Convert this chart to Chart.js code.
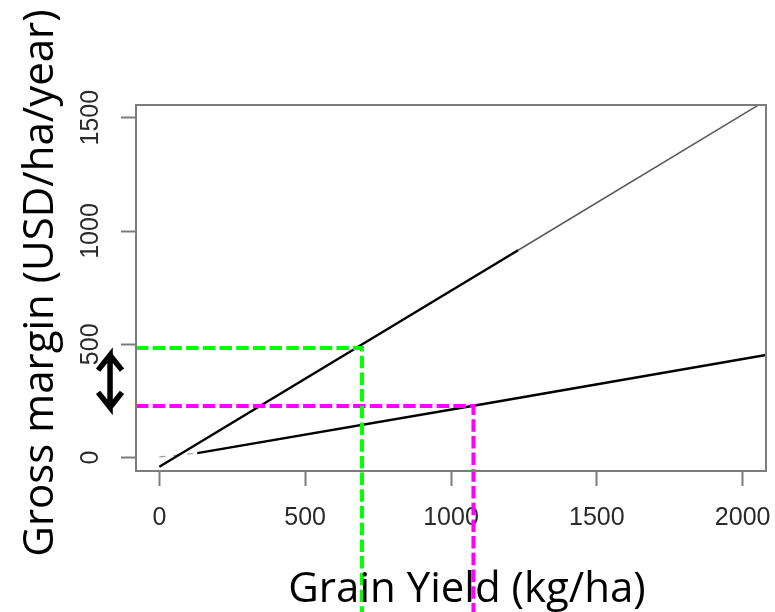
<!DOCTYPE html>
<html>
<head>
<meta charset="utf-8">
<script src="https://cdn.jsdelivr.net/npm/chart.js@4.4.1/dist/chart.umd.min.js"></script>
<style>
  html, body { margin: 0; padding: 0; background: #ffffff; }
  #wrap { width: 775px; height: 612px; }
</style>
</head>
<body>
<div id="wrap"><canvas id="c" width="775" height="612"></canvas></div>
<script>
// ---- axis ranges and ticks ----
const xMin = -80, xMax = 2080;
const yMin = -59, yMax = 1556;
const xTickValues = [0, 500, 1000, 1500, 2000];
const yTickValues = [0, 500, 1000, 1500];

// ---- steep gross-margin line (high price) ----
const highX = [0, 1230];
const highY = [-40, 915];
const highExtX = [1230, 2080];
const highExtY = [915, 1576];

// ---- shallow gross-margin line (low price) ----
const lowStartX = [0, 130];
const lowStartY = [3, 20];
const lowX = [130, 1077, 2080];
const lowY = [20, 229, 453];

// ---- guide lines (green / magenta) ----
const greenX = [-80, 695, 695];
const greenY = [484, 484, -700];
const magentaX = [-80, 1077, 1077];
const magentaY = [228, 228, -700];

// ---- double arrow annotation (data units), drawn as one path ----
const arrowX = [-128, -169, -210, -169, -169, -210, -169, -128];
const arrowY = [386, 452, 386, 452, 222, 288, 222, 288];

const xTitle = 'Grain Yield (kg/ha)';
const yTitle = 'Gross margin (USD/ha/year)';

function pts(xs, ys) { return xs.map((x, i) => ({ x: x, y: ys[i] })); }

const axisGrey = '#7c7c7c';
const tickFont = { family: 'Liberation Sans', size: 25 };

const framePlugin = {
  id: 'frame',
  afterDatasetsDraw(chart) {
    const { ctx, chartArea: a } = chart;
    ctx.save();
    ctx.strokeStyle = axisGrey;
    ctx.lineWidth = 2;
    ctx.strokeRect(a.left, a.top, a.right - a.left, a.bottom - a.top);
    ctx.restore();
  },
  afterDraw(chart) {
    const { ctx } = chart;
    ctx.save();
    ctx.fillStyle = '#000';
    ctx.font = '42px "Open Sans"';
    ctx.textAlign = 'center';
    ctx.textBaseline = 'alphabetic';
    ctx.fillText(xTitle, 467, 602);
    ctx.translate(53, 283);
    ctx.rotate(-Math.PI / 2);
    ctx.fillText(yTitle, 0, 0);
    ctx.restore();
  }
};

const line = (data, color, width, extra) => Object.assign({
  data: data, borderColor: color, borderWidth: width, showLine: true,
  pointRadius: 0, pointHoverRadius: 0, fill: false, tension: 0
}, extra || {});

new Chart(document.getElementById('c'), {
  type: 'scatter',
  data: {
    datasets: [
      line(pts(arrowX, arrowY), '#000', 5.5, { clip: false, order: 0, borderJoinStyle: 'miter', borderCapStyle: 'butt' }),
      line(pts(greenX, greenY), '#00ff00', 4, { clip: false, order: 1, borderDash: [12.5, 4.2] }),
      line(pts(magentaX, magentaY), '#ff00ff', 4, { clip: false, order: 1, borderDash: [12.5, 4.2] }),
      line(pts(highX, highY), '#000000', 2.4, { order: 2 }),
      line(pts(highExtX, highExtY), '#5a5a5a', 1.5, { order: 2 }),
      line(pts(lowStartX, lowStartY), '#9a9a9a', 1.2, { order: 2, borderDash: [6, 8] }),
      line(pts(lowX, lowY), '#000000', 2.4, { order: 2 })
    ]
  },
  options: {
    responsive: false,
    animation: false,
    devicePixelRatio: 1,
    layout: { padding: { top: 105, right: 9, left: 0, bottom: 0 } },
    plugins: { legend: { display: false }, tooltip: { enabled: false }, title: { display: false } },
    scales: {
      x: {
        type: 'linear', min: xMin, max: xMax,
        afterBuildTicks: (s) => { s.ticks = xTickValues.map(v => ({ value: v })); },
        afterFit: (s) => { s.height = 141; s.paddingLeft = 0; s.paddingRight = 0; },
        border: { display: true, color: axisGrey, width: 2 },
        grid: { drawOnChartArea: false, drawTicks: true, tickLength: 15, tickColor: axisGrey, tickWidth: 2 },
        ticks: { font: tickFont, color: '#2a2a2a', padding: 17, autoSkip: false, maxRotation: 0, minRotation: 0,
                 callback: (v) => String(v) }
      },
      y: {
        type: 'linear', min: yMin, max: yMax,
        afterBuildTicks: (s) => { s.ticks = yTickValues.map(v => ({ value: v })); },
        afterFit: (s) => { s.width = 136; s.paddingTop = 0; s.paddingBottom = 0; },
        border: { display: true, color: axisGrey, width: 2 },
        grid: { drawOnChartArea: false, drawTicks: true, tickLength: 15, tickColor: axisGrey, tickWidth: 2 },
        ticks: { font: tickFont, color: '#2a2a2a', padding: 2, autoSkip: false, minRotation: 90, maxRotation: 90, crossAlign: 'center',
                 callback: (v) => String(v) }
      }
    }
  },
  plugins: [framePlugin]
});
</script>
</body>
</html>
